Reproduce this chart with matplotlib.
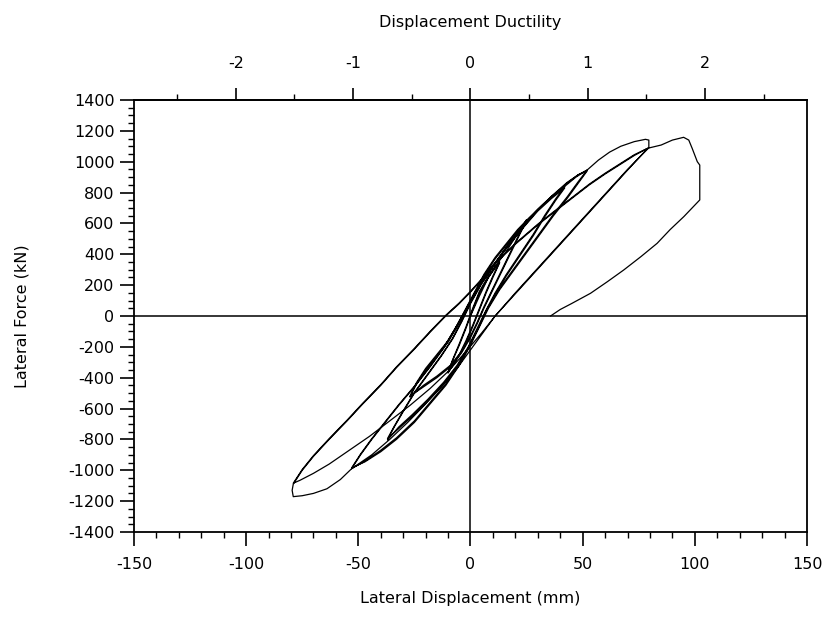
import matplotlib.pyplot as plt
import numpy as np

plt.rcParams['axes.unicode_minus'] = False

# yield displacement used for the ductility axis (mm)
dy = 52.3

# hysteresis path as (displacement mm, force kN)
start = [(0, 0), (4, 130), (8, 250), (13, 350)]
a1_down = [(10, 260), (7, 160), (4, 50), (1, -60), (-2, -160), (-5, -250), (-8, -320), (-10, -370)]
a1_up = [(-8, -290), (-5, -190), (-2, -80), (1, 40), (4, 150), (8, 250), (11, 320), (13, 345)]
a2_down = [(10, 250), (7, 150), (4, 40), (1, -70), (-2, -170), (-5, -255), (-8, -325), (-10, -365)]
a2_up = [(-8, -285), (-5, -180), (-2, -70), (1, 50), (4, 160), (8, 260), (12, 340), (16, 420),
         (20, 510), (25, 625)]
b1_down = [(22, 540), (18, 420), (14, 300), (10, 180), (6, 60), (3, -40), (0, -130), (-4, -230),
           (-9, -320), (-15, -390), (-21, -450), (-27, -525)]
b1_up = [(-24, -440), (-20, -350), (-15, -260), (-10, -170), (-6, -70), (-2, 40), (2, 150), (6, 260),
         (11, 370), (16, 460), (21, 550), (25, 615)]
b2_down = [(22, 530), (18, 410), (14, 290), (10, 170), (6, 50), (3, -50), (0, -140), (-4, -240),
           (-9, -330), (-15, -400), (-21, -460), (-27, -520)]
b2_up = [(-24, -430), (-20, -340), (-15, -250), (-10, -160), (-6, -60), (-2, 50), (2, 160), (6, 270),
         (11, 380), (16, 470), (21, 560), (26, 635), (32, 720), (37, 785), (42, 838)]
c1_down = [(38, 760), (33, 650), (28, 530), (22, 400), (16, 270), (11, 150), (7, 40), (3, -80),
           (-1, -200), (-6, -320), (-12, -430), (-19, -540), (-26, -640), (-32, -720), (-37, -803)]
c1_up = [(-34, -720), (-30, -620), (-25, -500), (-19, -380), (-13, -260), (-8, -150), (-4, -40),
         (0, 80), (5, 210), (11, 340), (17, 460), (24, 580), (30, 680), (36, 760), (42, 830)]
c2_down = [(38, 750), (33, 640), (28, 520), (22, 390), (16, 260), (11, 140), (7, 30), (3, -90),
           (-1, -210), (-6, -330), (-12, -440), (-19, -550), (-26, -650), (-32, -730), (-37, -795)]
c2_up = [(-34, -715), (-30, -615), (-25, -495), (-19, -375), (-13, -255), (-8, -145), (-4, -35),
         (0, 85), (5, 215), (11, 345), (17, 465), (24, 590), (30, 690), (36, 770), (42, 840),
         (47, 900), (52, 946)]
d1_down = [(48, 870), (43, 770), (37, 660), (31, 540), (25, 420), (19, 300), (13, 180), (8, 60),
           (4, -60), (0, -180), (-5, -310), (-11, -440), (-18, -560), (-25, -680), (-33, -790),
           (-40, -870), (-47, -940), (-53, -990)]
d1_up = [(-49, -900), (-44, -800), (-38, -690), (-32, -580), (-25, -460), (-18, -330), (-12, -210),
         (-7, -90), (-2, 40), (3, 170), (9, 300), (15, 420), (22, 550), (29, 670), (36, 770),
         (43, 860), (48, 915), (52, 940)]
d2_down = [(48, 860), (43, 760), (37, 650), (31, 530), (25, 410), (19, 290), (13, 170), (8, 50),
           (4, -70), (0, -190), (-5, -320), (-11, -450), (-18, -570), (-25, -690), (-33, -800),
           (-40, -880), (-47, -945), (-53, -985)]
d2_up = [(-49, -895), (-44, -795), (-38, -685), (-32, -575), (-25, -455), (-18, -325), (-12, -205),
         (-7, -85), (-2, 45), (3, 175), (9, 305), (15, 425), (22, 555), (29, 675), (36, 775),
         (43, 865), (48, 915), (52, 946), (57, 1010), (62, 1062), (67, 1100), (73, 1130),
         (78, 1145), (79.5, 1140), (79.5, 1090)]
e1_down = [(70, 950), (60, 790), (50, 630), (40, 470), (30, 310), (20, 150), (11, 0), (6, -100),
           (0, -220), (-6, -340), (-13, -460), (-20, -570), (-28, -690), (-36, -800), (-44, -900),
           (-53, -990), (-58, -1060), (-64, -1120), (-70, -1150), (-75, -1165), (-79, -1171),
           (-79.5, -1130), (-79, -1090)]
e1_up = [(-75, -1000), (-70, -910), (-63, -800), (-55, -680), (-48, -570), (-40, -450), (-33, -335),
         (-25, -215), (-18, -105), (-11, 0), (-5, 80), (0, 155), (5, 235), (10, 325), (20, 465),
         (30, 590), (37, 670), (45, 760), (53, 850), (60, 920), (67, 985), (73, 1040), (79, 1087)]
e2_down = [(70, 945), (60, 785), (50, 625), (40, 465), (30, 305), (20, 145), (11, 0), (5, -110),
           (-2, -230), (-10, -360), (-18, -470), (-27, -580), (-36, -680), (-45, -780), (-55, -880),
           (-63, -960), (-70, -1020), (-76, -1065), (-79, -1084)]
e2_up = [(-75, -995), (-70, -905), (-63, -795), (-55, -675), (-48, -565), (-40, -445), (-33, -330),
         (-25, -210), (-18, -100), (-11, 5), (-5, 85), (0, 160), (5, 240), (10, 330), (20, 470),
         (30, 595), (37, 675), (45, 765), (53, 855), (60, 925), (67, 990), (73, 1045), (79, 1087)]
final = [(85, 1108), (90, 1140), (95, 1158), (97.3, 1140), (98.8, 1087), (101.1, 1000),
         (102.2, 978), (102.2, 752), (95.1, 644), (89, 560), (83.2, 471), (76, 385), (68.3, 298),
         (61, 222), (53.5, 147), (45, 80), (40, 42), (35.7, 0)]

path = (start + a1_down + a1_up + a2_down + a2_up + b1_down + b1_up + b2_down + b2_up
        + c1_down + c1_up + c2_down + c2_up + d1_down + d1_up + d2_down + d2_up
        + e1_down + e1_up + e2_down + e2_up + final)
disp = np.array([p[0] for p in path])
force = np.array([p[1] for p in path])

duct_ticks = [-2, -1, 0, 1, 2]

fig = plt.figure(figsize=(8.26, 6.26), dpi=100)
ax = fig.add_axes([0.1622, 0.1502, 0.8148, 0.6901])

ax.plot(disp, force, color='black', lw=0.9)
ax.axhline(0, color='black', lw=1.1)
ax.axvline(0, color='black', lw=1.1)

ax.set_xlim(-150, 150)
ax.set_ylim(-1400, 1400)
ax.set_xticks(np.arange(-150, 151, 50))
ax.set_xticks(np.arange(-150, 151, 10), minor=True)
ax.set_yticks(np.arange(-1400, 1401, 200))
ax.set_yticks(np.arange(-1400, 1401, 50), minor=True)
ax.tick_params(which='major', direction='out', length=10, width=1.2, labelsize=11.5)
ax.tick_params(which='minor', direction='out', length=4.5, width=1.0)
ax.tick_params(axis='x', which='major', pad=8)
ax.tick_params(axis='y', which='major', pad=4)
for s in ax.spines.values():
    s.set_linewidth(1.3)

top = ax.secondary_xaxis('top', functions=(lambda x: x / dy, lambda d: d * dy))
top.set_xticks(duct_ticks)
top.set_xticks(np.arange(-2.5, 2.6, 0.5), minor=True)
top.tick_params(which='major', direction='out', length=9, width=1.2, labelsize=11.5, pad=12)
top.tick_params(which='minor', direction='out', length=4, width=1.0)
top.spines['top'].set_linewidth(1.3)

fig.text(470 / 826, 1 - 22 / 626, 'Displacement Ductility', ha='center', va='center', fontsize=11.5)
fig.text(470 / 826, 1 - 598 / 626, 'Lateral Displacement (mm)', ha='center', va='center', fontsize=11.5)
fig.text(22 / 826, 1 - 316 / 626, 'Lateral Force (kN)', ha='center', va='center', rotation=90, fontsize=11.5)

fig.savefig('out.png', dpi=100)
